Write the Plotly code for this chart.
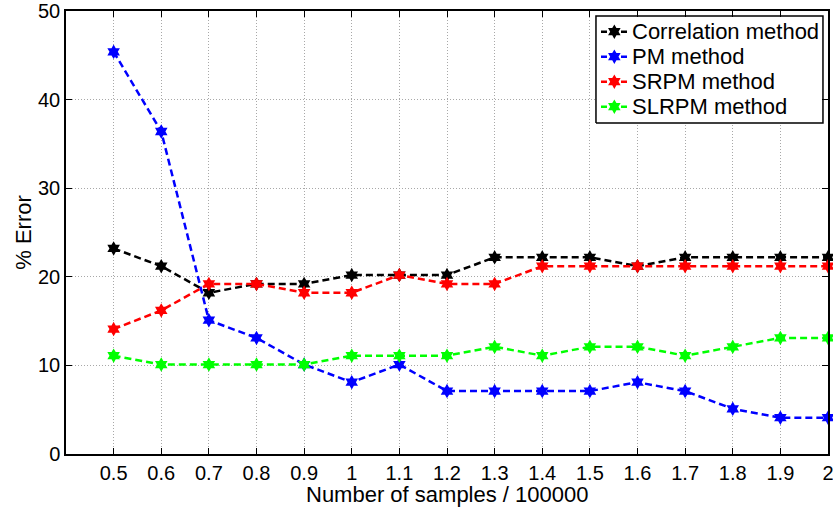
import plotly.graph_objects as go

# Sample counts (in units of 100000)
samples = [0.5, 0.6, 0.7, 0.8, 0.9, 1.0, 1.1, 1.2, 1.3, 1.4, 1.5, 1.6, 1.7, 1.8, 1.9, 2.0]

# Percentage error for each estimation method
correlation_err = [23.2, 21.2, 18.2, 19.2, 19.2, 20.2, 20.2, 20.2, 22.2, 22.2, 22.2, 21.2, 22.2, 22.2, 22.2, 22.2]
pm_err = [45.4, 36.4, 15.1, 13.1, 10.1, 8.1, 10.1, 7.1, 7.1, 7.1, 7.1, 8.1, 7.1, 5.1, 4.1, 4.1]
srpm_err = [14.1, 16.2, 19.2, 19.2, 18.2, 18.2, 20.2, 19.2, 19.2, 21.2, 21.2, 21.2, 21.2, 21.2, 21.2, 21.2]
slrpm_err = [11.1, 10.1, 10.1, 10.1, 10.1, 11.1, 11.1, 11.1, 12.1, 11.1, 12.1, 12.1, 11.1, 12.1, 13.1, 13.1]

method_names = ["Correlation method", "PM method", "SRPM method", "SLRPM method"]
method_values = [correlation_err, pm_err, srpm_err, slrpm_err]
method_colors = ["#000000", "#0000ff", "#ff0000", "#00ff00"]

x_ticks = [0.5, 0.6, 0.7, 0.8, 0.9, 1, 1.1, 1.2, 1.3, 1.4, 1.5, 1.6, 1.7, 1.8, 1.9, 2]
x_tick_text = ["0.5", "0.6", "0.7", "0.8", "0.9", "1", "1.1", "1.2", "1.3", "1.4",
               "1.5", "1.6", "1.7", "1.8", "1.9", "2"]
y_ticks = [0, 10, 20, 30, 40, 50]

FONT = "Liberation Sans, Arial, sans-serif"
DASH = "7px,4px"

fig = go.Figure()
for name, vals, color in zip(method_names, method_values, method_colors):
    fig.add_trace(go.Scatter(
        x=samples, y=vals, name=name, mode="lines+markers", showlegend=False,
        line=dict(color=color, width=2.5, dash=DASH),
        marker=dict(symbol="hexagram", size=11, color=color, line=dict(width=0)),
        cliponaxis=False,
    ))

# Compact boxed legend in the upper-right corner of the plot area
# (positions are fractions of the plot area, drawn on a hidden overlay axis)
box_x0, box_x1, box_y0, box_y1 = 0.6955, 0.9934, 0.7472, 0.9887
row_y = [0.9533, 0.8968, 0.8404, 0.7840]
sample_x = [0.7021, 0.7196, 0.7379]
text_x = 0.7400

fig.add_trace(go.Scatter(
    x=[box_x0, box_x1, box_x1, box_x0, box_x0],
    y=[box_y0, box_y0, box_y1, box_y1, box_y0],
    xaxis="x2", yaxis="y2", mode="lines", fill="toself", fillcolor="white",
    line=dict(color="black", width=1.5), showlegend=False, hoverinfo="skip",
))
for name, color, ry in zip(method_names, method_colors, row_y):
    fig.add_trace(go.Scatter(
        x=sample_x, y=[ry] * 3, xaxis="x2", yaxis="y2", mode="lines",
        showlegend=False, hoverinfo="skip",
        line=dict(color=color, width=2.5, dash="6px,4px"),
    ))
    fig.add_trace(go.Scatter(
        x=[sample_x[1]], y=[ry], xaxis="x2", yaxis="y2", mode="markers",
        showlegend=False, hoverinfo="skip",
        marker=dict(symbol="hexagram", size=11, color=color, line=dict(width=0)),
    ))
    fig.add_annotation(text=name, xref="x domain", yref="y domain",
                       x=text_x, y=ry, xanchor="left", yanchor="middle",
                       showarrow=False,
                       font=dict(family=FONT, size=22, color="black"))

# x-axis caption, centred under the plot area (paper units span the plot area)
fig.add_annotation(text="Number of samples / 100000", xref="paper", yref="paper",
                   x=0.5, y=-0.0903, xanchor="center", yanchor="middle",
                   showarrow=False, font=dict(family=FONT, size=22, color="black"))

axis_common = dict(
    showline=True, linecolor="black", linewidth=1.5, mirror="ticks",
    ticks="inside", ticklen=6, tickcolor="black", tickwidth=1,
    showgrid=True, gridcolor="#a8a8a8", griddash="1px,2px", gridwidth=1,
    zeroline=False, tickfont=dict(family=FONT, size=20, color="black"),
    automargin=False, ticklabeloverflow="allow",
)

fig.update_layout(
    xaxis=dict(
        range=[0.4, 2.0], tickvals=x_ticks, ticktext=x_tick_text,
        **axis_common,
    ),
    yaxis=dict(
        range=[0, 50], tickvals=y_ticks,
        title=dict(text="% Error", font=dict(family=FONT, size=22, color="black"),
                   standoff=0),
        **axis_common,
    ),
    xaxis2=dict(overlaying="x", range=[0, 1], visible=False),
    yaxis2=dict(overlaying="y", range=[0, 1], visible=False),
    width=833, height=508,
    margin=dict(l=66, r=5, t=11, b=54),
    paper_bgcolor="white", plot_bgcolor="white",
    font=dict(family=FONT, color="black"),
    showlegend=False,
)

fig.write_html("out.html")
